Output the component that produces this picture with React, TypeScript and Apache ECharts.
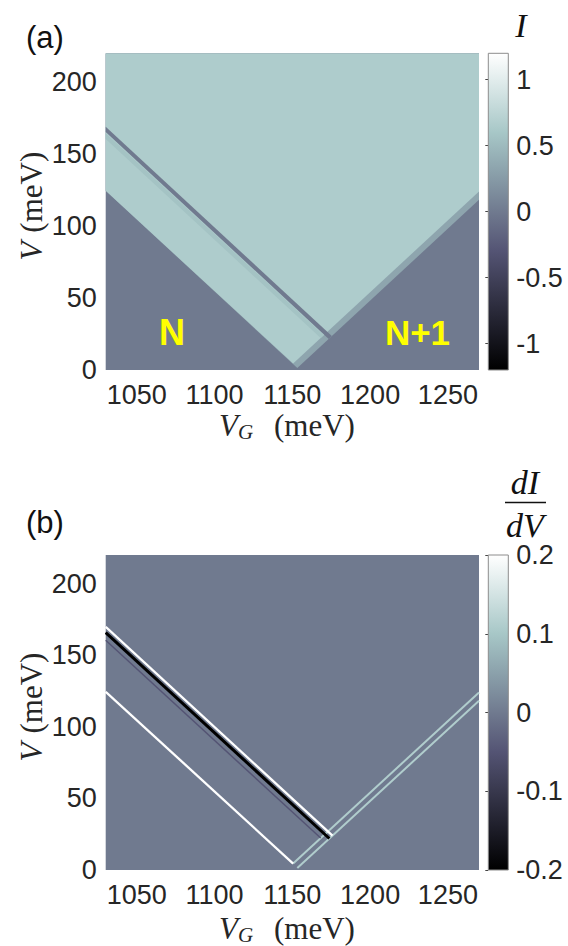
import React, { useEffect, useRef } from "react";
import * as echarts from "echarts";

// ---------- axes ----------
const vgRange = [1030, 1270];
const vRange = [0, 220];
const vgTicks = [1050, 1100, 1150, 1200, 1250];
const vTicks = [0, 50, 100, 150, 200];
const iRange = [-1.2, 1.2];
const iTicks = [-1, -0.5, 0, 0.5, 1];
const didvRange = [-0.2, 0.2];
const didvTicks = [-0.2, -0.1, 0, 0.1, 0.2];

// MATLAB "bone" colormap, evenly spaced stops (t = 0, 1/8, ..., 1)
const boneColors = ["#000000", "#1c1c27", "#38384d", "#545474", "#707a8f", "#8ba1ab", "#a7c7c7", "#d3e3e3", "#ffffff"];

// ---------- panel (a): current I, regions as (V_G, V) polygons ----------
const blockadePoly = [[1030, 0], [1270, 0], [1270, 220], [1030, 220]];
const excitedStripPoly = [[1030, 124.5], [1153.2, 1.4], [1270, 118.2], [1270, 220], [1030, 220]];
const conductingPoly = [[1030, 124.5], [1150.5, 4.5], [1270, 124], [1270, 220], [1030, 220]];
const dipLinePoly = [[1030, 164.5], [1170.2, 24.2], [1168.2, 22.2], [1030, 160.5]];
const darkLinePoly = [[1030, 169], [1175.4, 23.6], [1173.4, 21.6], [1030, 165.3]];
const regionPolysA = [blockadePoly, excitedStripPoly, conductingPoly, dipLinePoly, darkLinePoly];
const regionCurrentA = [0, 0.33, 0.65, 0.57, 0];

// ---------- panel (b): dI/dV, background + ridges ----------
const bgPolyB = [[1030, 0], [1270, 0], [1270, 220], [1030, 220]];
const ridgeR1 = [[1153.2, 1.4], [1270, 118.2]];
const ridgeR2 = [[1150.5, 4.5], [1270, 124]];
const ridgeFaint = [[1030, 160.5], [1168.2, 22.3]];
const ridgeGround = [[1030, 124.5], [1150.5, 4.5]];
const ridgeBlack = [[1030, 165.8], [1173.8, 22]];
const ridgeWhite = [[1030, 169.8], [1175.8, 24]];
const shapesB = [bgPolyB, ridgeR1, ridgeR2, ridgeFaint, ridgeGround, ridgeBlack, ridgeWhite];
const shapeDidvB = [0, 0.11, 0.11, -0.05, 0.2, -0.2, 0.2];
// styles (line widths in px) kept apart from data
const ridgeWidthsB = [0, 2, 2, 1.5, 2.3, 3, 2.3];

const FONT_SANS = "Liberation Sans, Arial, Helvetica, sans-serif";
const FONT_SERIF = "Liberation Serif, Times New Roman, serif";
const TXT = "#262626";

const PLOT_LEFT = 105.7;
const PLOT_W = 373.3;
const CB_LEFT = 488.3;
const CB_W = 20;
const A_TOP = 53.3;
const A_H = 316.7;
const B_TOP = 555;
const B_H = 315;

const fmt = (v: number) => String(v);

function mainAxes(gridIndex: number) {
  const x = {
    gridIndex,
    type: "value",
    min: vgRange[0],
    max: vgRange[1],
    axisLine: { show: false },
    axisTick: { show: false },
    splitLine: { show: false },
    axisLabel: { customValues: vgTicks, formatter: fmt, fontSize: 27, color: TXT, fontFamily: FONT_SANS, margin: 11 },
  };
  const y = {
    gridIndex,
    type: "value",
    min: vRange[0],
    max: vRange[1],
    axisLine: { show: false },
    axisTick: { show: false },
    splitLine: { show: false },
    axisLabel: { customValues: vTicks, formatter: fmt, fontSize: 27, color: TXT, fontFamily: FONT_SANS, margin: 9 },
  };
  return { x, y };
}

function cbAxes(gridIndex: number, range: number[], ticks: number[]) {
  const x = { gridIndex, type: "value", min: 0, max: 1, show: false };
  const y = {
    gridIndex,
    type: "value",
    position: "right",
    min: range[0],
    max: range[1],
    axisLine: { show: false },
    axisTick: { show: true, inside: true, length: 3, customValues: ticks, lineStyle: { color: "#444", width: 1 } },
    splitLine: { show: false },
    axisLabel: { customValues: ticks, formatter: fmt, fontSize: 27, color: TXT, fontFamily: FONT_SANS, margin: 8 },
  };
  return { x, y };
}

function colorbarSeries(axisIndex: number, range: number[]) {
  const stops = boneColors
    .slice()
    .reverse()
    .map((c, i) => ({ offset: i / (boneColors.length - 1), color: c }));
  return {
    type: "custom",
    xAxisIndex: axisIndex,
    yAxisIndex: axisIndex,
    silent: true,
    data: [[0, range[0], 1, range[1]]],
    renderItem: (params: any, api: any) => {
      const tl = api.coord([api.value(0), api.value(3)]);
      const br = api.coord([api.value(2), api.value(1)]);
      return {
        type: "rect",
        shape: { x: tl[0], y: tl[1], width: br[0] - tl[0], height: br[1] - tl[1] },
        style: { fill: new echarts.graphic.LinearGradient(0, 0, 0, 1, stops), stroke: "#8c8c8c", lineWidth: 1 },
      };
    },
  };
}

function yTitle(cy: number) {
  return {
    type: "group",
    x: 31,
    y: cy,
    rotation: Math.PI / 2,
    children: [
      { type: "text", x: -30, y: 0, style: { text: "V", fontSize: 31, fontStyle: "italic", fontFamily: FONT_SERIF, fill: TXT, align: "right", verticalAlign: "middle" } },
      { type: "text", x: -21, y: 0, style: { text: "(meV)", fontSize: 31, fontFamily: FONT_SERIF, fill: TXT, align: "left", verticalAlign: "middle" } },
    ],
  };
}

function xTitle(cy: number) {
  return {
    type: "group",
    x: 0,
    y: cy,
    children: [
      { type: "text", x: 219, y: 0, style: { text: "V", fontSize: 31, fontStyle: "italic", fontFamily: FONT_SERIF, fill: TXT, align: "left", verticalAlign: "middle" } },
      { type: "text", x: 238, y: 7, style: { text: "G", fontSize: 21, fontStyle: "italic", fontFamily: FONT_SERIF, fill: TXT, align: "left", verticalAlign: "middle" } },
      { type: "text", x: 274, y: 0, style: { text: "(meV)", fontSize: 31, fontFamily: FONT_SERIF, fill: TXT, align: "left", verticalAlign: "middle" } },
    ],
  };
}

export default function App() {
  const ref = useRef<HTMLDivElement>(null);
  useEffect(() => {
    document.body.style.margin = "0";
    const chart = echarts.init(ref.current!, null, { renderer: "svg" });
    const a = mainAxes(0);
    const ca = cbAxes(1, iRange, iTicks);
    const b = mainAxes(2);
    const cb = cbAxes(3, didvRange, didvTicks);

    const option: any = {
      animation: false,
      backgroundColor: "#ffffff",
      grid: [
        { left: PLOT_LEFT, top: A_TOP, width: PLOT_W, height: A_H },
        { left: CB_LEFT, top: A_TOP, width: CB_W, height: A_H },
        { left: PLOT_LEFT, top: B_TOP, width: PLOT_W, height: B_H },
        { left: CB_LEFT, top: B_TOP, width: CB_W, height: B_H },
      ],
      xAxis: [a.x, ca.x, b.x, cb.x],
      yAxis: [a.y, ca.y, b.y, cb.y],
      visualMap: [
        { type: "continuous", show: false, seriesIndex: 0, dimension: 3, min: iRange[0], max: iRange[1], inRange: { color: boneColors } },
        { type: "continuous", show: false, seriesIndex: 2, dimension: 3, min: didvRange[0], max: didvRange[1], inRange: { color: boneColors } },
      ],
      series: [
        {
          type: "custom",
          name: "I",
          xAxisIndex: 0,
          yAxisIndex: 0,
          clip: true,
          silent: true,
          data: regionPolysA.map((p, i) => [p[0][0], p[0][1], i, regionCurrentA[i]]),
          renderItem: (params: any, api: any) => {
            const idx = api.value(2);
            const pts = regionPolysA[idx].map((p) => api.coord(p));
            return { type: "polygon", shape: { points: pts }, style: { fill: api.visual("color") } };
          },
        },
        colorbarSeries(1, iRange),
        {
          type: "custom",
          name: "dI/dV",
          xAxisIndex: 2,
          yAxisIndex: 2,
          clip: true,
          silent: true,
          data: shapesB.map((p, i) => [p[0][0], p[0][1], i, shapeDidvB[i]]),
          renderItem: (params: any, api: any) => {
            const idx = api.value(2);
            const pts = shapesB[idx].map((p) => api.coord(p));
            const color = api.visual("color");
            if (idx === 0) {
              return { type: "polygon", shape: { points: pts }, style: { fill: color } };
            }
            return {
              type: "polyline",
              shape: { points: pts },
              style: { stroke: color, lineWidth: ridgeWidthsB[idx], fill: null, lineCap: "butt" },
            };
          },
        },
        colorbarSeries(3, didvRange),
      ],
      graphic: [
        { type: "text", x: 26, y: 37, z: 100, style: { text: "(a)", fontSize: 31, fontFamily: FONT_SANS, fill: "#111", align: "left", verticalAlign: "middle" } },
        { type: "text", x: 26, y: 522, z: 100, style: { text: "(b)", fontSize: 31, fontFamily: FONT_SANS, fill: "#111", align: "left", verticalAlign: "middle" } },
        { type: "text", x: 521, y: 25, z: 100, style: { text: "I", fontSize: 34, fontStyle: "italic", fontFamily: FONT_SERIF, fill: "#111", align: "center", verticalAlign: "middle" } },
        { type: "text", x: 525, y: 482, z: 100, style: { text: "dI", fontSize: 34, fontStyle: "italic", fontFamily: FONT_SERIF, fill: "#111", align: "center", verticalAlign: "middle" } },
        { type: "line", z: 100, shape: { x1: 505, y1: 502.5, x2: 546, y2: 502.5 }, style: { stroke: "#111", lineWidth: 1.5 } },
        { type: "text", x: 525, y: 525, z: 100, style: { text: "dV", fontSize: 34, fontStyle: "italic", fontFamily: FONT_SERIF, fill: "#111", align: "center", verticalAlign: "middle" } },
        { type: "text", x: 172, y: 332, z: 100, style: { text: "N", fontSize: 36, fontWeight: "bold", fontFamily: FONT_SANS, fill: "#ffff00", align: "center", verticalAlign: "middle" } },
        { type: "text", x: 417.5, y: 332, z: 100, style: { text: "N+1", fontSize: 35, fontWeight: "bold", fontFamily: FONT_SANS, fill: "#ffff00", align: "center", verticalAlign: "middle" } },
        { ...yTitle(A_TOP + A_H / 2), z: 100 },
        { ...yTitle(B_TOP + B_H / 2), z: 100 },
        { ...xTitle(425), z: 100 },
        { ...xTitle(928), z: 100 },
      ],
    };
    chart.setOption(option);
    return () => chart.dispose();
  }, []);
  return <div ref={ref} style={{ position: "absolute", left: 0, top: 0, width: 568, height: 946 }} />;
}
